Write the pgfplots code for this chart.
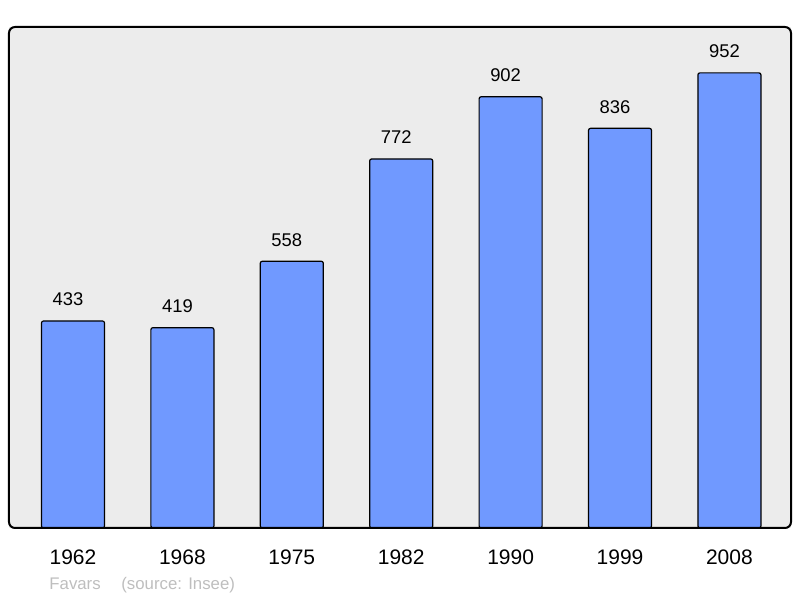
\documentclass[border=0pt]{standalone}
\usepackage{pgfplots}
\pgfplotsset{compat=1.18}
\usepackage{fontspec}
\setmainfont{Liberation Sans}
\definecolor{bg}{RGB}{236,236,236}
\definecolor{barblue}{RGB}{112,153,255}
\definecolor{foot}{RGB}{190,190,190}
\begin{document}
\begin{tikzpicture}
\path[use as bounding box] (-4.5pt,-35pt) rectangle (395.5pt,264pt);
\begin{axis}[
  at={(0,0)}, anchor=south west,
  scale only axis, width=391pt, height=250.5pt,
  xmin=-0.585, xmax=6.563, ymin=0, ymax=1048,
  axis background/.style={fill=bg},
  axis line style={draw=none},
  ytick=\empty,
  xtick={0,1,2,3,4,5,6},
  xticklabels={1962,1968,1975,1982,1990,1999,2008},
  major tick length=0pt,
  xticklabel style={anchor=base, yshift=-18.5pt, font=\fontsize{10.5}{12}\selectfont},
  nodes near coords,
  nodes near coords style={anchor=base, yshift=7.5pt, xshift=-2.5pt, font=\fontsize{9.2}{11}\selectfont, black},
  /pgf/number format/assume math mode=true,
  /pgf/number format/1000 sep={},
  clip=false,
]
\addplot[ybar, bar width=0.576, fill=barblue, draw=black, line width=0.6pt, rounded corners=1pt]
  coordinates {(0,433) (1,419) (2,558) (3,772) (4,902) (5,836) (6,952)};
\draw[line width=1pt, rounded corners=3pt] (rel axis cs:0,0) rectangle (rel axis cs:1,1);
\end{axis}
\node[anchor=base west, inner sep=0, text=foot, font=\fontsize{8.4}{10}\selectfont] at (20pt,-31pt) {Favars};
\node[anchor=base west, inner sep=0, text=foot, font=\fontsize{8.4}{10}\selectfont] at (56pt,-31pt) {(source: Insee)};
\end{tikzpicture}
\end{document}
